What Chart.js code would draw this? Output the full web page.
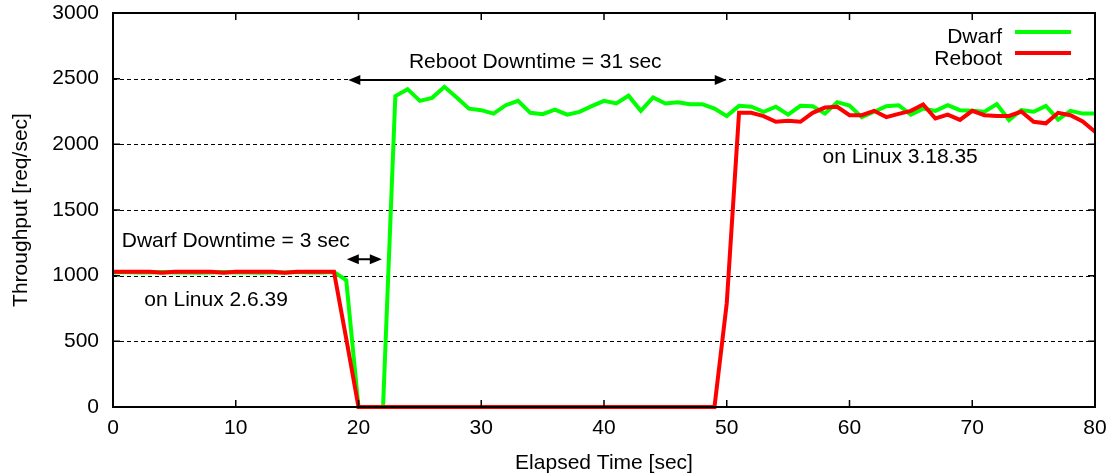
<!DOCTYPE html>
<html>
<head>
<meta charset="utf-8">
<script src="https://cdn.jsdelivr.net/npm/chart.js@4.4.1/dist/chart.umd.min.js"></script>
<style>
  html, body { margin:0; padding:0; background:#fff; }
  #wrap { width:1112px; height:476px; }
</style>
</head>
<body>
<div id="wrap"><canvas id="chart" width="1112" height="476"></canvas></div>
<script>
// elapsed seconds 0..80
const seconds = [
  0,1,2,3,4,5,6,7,8,9,10,11,12,13,14,15,16,17,18,19,20,
  21,22,23,24,25,26,27,28,29,30,31,32,33,34,35,36,37,38,39,40,
  41,42,43,44,45,46,47,48,49,50,51,52,53,54,55,56,57,58,59,60,
  61,62,63,64,65,66,67,68,69,70,71,72,73,74,75,76,77,78,79,80
];

const dwarf = [
  1025,1028,1025,1025,1028,1025,1025,1022,1025,1028,1025,1025,1022,1025,1025,1028,1025,1025,1028,966,0,
  0,0,2367,2420,2331,2354,2438,2357,2272,2260,2234,2298,2331,2240,2230,2265,2226,2247,2291,2331,
  2311,2370,2255,2357,2311,2321,2306,2306,2272,2215,2293,2286,2248,2286,2226,2293,2290,2234,2321,2295,
  2207,2248,2290,2298,2226,2272,2255,2298,2260,2255,2248,2306,2185,2261,2248,2292,2189,2255,2234,2234
];

const reboot = [
  1030,1030,1030,1030,1022,1030,1030,1030,1030,1022,1030,1030,1030,1030,1022,1030,1030,1030,1030,520,0,
  0,0,0,0,0,0,0,0,0,0,0,0,0,0,0,0,0,0,0,0,
  0,0,0,0,0,0,0,0,0,790,2240,2240,2215,2172,2180,2172,2240,2280,2286,2222,
  2222,2255,2207,2232,2255,2303,2197,2226,2186,2255,2222,2215,2216,2250,2172,2160,2240,2222,2175,2096
];

const seriesNames = ['Dwarf', 'Reboot'];
const seriesColors = ['#00ff00', '#ff0000'];
const xTicks = [0,10,20,30,40,50,60,70,80];
const yTicks = [0,500,1000,1500,2000,2500,3000];

const FONT = '"Liberation Sans", Arial, Helvetica, sans-serif';

function pts(vals) {
  return seconds.map((s, i) => ({ x: s, y: vals[i] }));
}

// extra drawing: dashed grid, frame, inward ticks, arrows, notes, key
const decor = {
  id: 'decor',
  beforeDatasetsDraw(chart) {
    const {ctx, chartArea: a, scales: {y}} = chart;
    ctx.save();
    ctx.strokeStyle = '#000';
    ctx.lineWidth = 1;
    ctx.setLineDash([4, 3]);
    yTicks.forEach(v => {
      if (v === 0 || v === 3000) return;
      const py = Math.round(y.getPixelForValue(v)) + 0.5;
      ctx.beginPath();
      ctx.moveTo(a.left, py);
      ctx.lineTo(a.right, py);
      ctx.stroke();
    });
    ctx.restore();
  },
  afterDatasetsDraw(chart) {
    const {ctx, chartArea: a, scales: {x, y}} = chart;
    ctx.save();
    ctx.strokeStyle = '#000';
    ctx.lineWidth = 2;
    ctx.setLineDash([]);
    ctx.strokeRect(a.left, a.top, a.right - a.left, a.bottom - a.top);

    // inward ticks
    const tl = 7;
    ctx.lineWidth = 1.5;
    ctx.beginPath();
    xTicks.forEach(v => {
      const px = x.getPixelForValue(v);
      ctx.moveTo(px, a.bottom); ctx.lineTo(px, a.bottom - tl);
      ctx.moveTo(px, a.top); ctx.lineTo(px, a.top + tl);
    });
    yTicks.forEach(v => {
      const py = y.getPixelForValue(v);
      ctx.moveTo(a.left, py); ctx.lineTo(a.left + tl, py);
      ctx.moveTo(a.right, py); ctx.lineTo(a.right - tl, py);
    });
    ctx.stroke();

    // double arrows
    function arrow(t1, t2, v) {
      const x1 = x.getPixelForValue(t1), x2 = x.getPixelForValue(t2);
      const py = y.getPixelForValue(v);
      const hl = 12, hw = 5;
      ctx.lineWidth = 2;
      ctx.beginPath();
      ctx.moveTo(x1 + hl - 2, py); ctx.lineTo(x2 - hl + 2, py);
      ctx.stroke();
      ctx.fillStyle = '#000';
      ctx.beginPath();
      ctx.moveTo(x1, py); ctx.lineTo(x1 + hl, py - hw); ctx.lineTo(x1 + hl, py + hw);
      ctx.closePath(); ctx.fill();
      ctx.beginPath();
      ctx.moveTo(x2, py); ctx.lineTo(x2 - hl, py - hw); ctx.lineTo(x2 - hl, py + hw);
      ctx.closePath(); ctx.fill();
    }
    arrow(19.05, 21.9, 1125);
    arrow(19.17, 50.0, 2490);

    ctx.font = '21px ' + FONT;
    ctx.fillStyle = '#000';
    ctx.textBaseline = 'alphabetic';
    ctx.textAlign = 'center';
    ctx.fillText('Reboot Downtime = 31 sec', x.getPixelForValue(34.4), y.getPixelForValue(2579));
    ctx.textAlign = 'left';
    ctx.fillText('Dwarf Downtime = 3 sec', x.getPixelForValue(0.71), y.getPixelForValue(1218));
    ctx.fillText('on Linux 2.6.39', x.getPixelForValue(2.55), y.getPixelForValue(771));
    ctx.fillText('on Linux 3.18.35', x.getPixelForValue(57.8), y.getPixelForValue(1860));

    // key
    ctx.textAlign = 'right';
    seriesNames.forEach((name, i) => {
      ctx.fillStyle = '#000';
      ctx.fillText(name, a.right - 93, a.top + 30 + i * 22);
      ctx.strokeStyle = seriesColors[i];
      ctx.lineWidth = 4;
      ctx.beginPath();
      ctx.moveTo(a.right - 80, a.top + 19 + i * 21);
      ctx.lineTo(a.right - 24, a.top + 19 + i * 21);
      ctx.stroke();
    });
    ctx.restore();
  }
};

new Chart(document.getElementById('chart'), {
  type: 'line',
  data: {
    datasets: [
      { label: seriesNames[1], data: pts(reboot), borderColor: seriesColors[1], borderWidth: 4,
        pointRadius: 0, tension: 0, clip: 6 },
      { label: seriesNames[0], data: pts(dwarf), borderColor: seriesColors[0], borderWidth: 4,
        pointRadius: 0, tension: 0, clip: 6 }
    ]
  },
  options: {
    responsive: false,
    animation: false,
    devicePixelRatio: 1,
    layout: { padding: { top: 13, right: 17, left: 0, bottom: 0 } },
    plugins: { legend: { display: false }, tooltip: { enabled: false } },
    scales: {
      x: {
        type: 'linear', min: 0, max: 80,
        afterBuildTicks: s => { s.ticks = xTicks.map(v => ({ value: v })); },
        afterFit: s => { s.height = 69; s.paddingLeft = 0; s.paddingRight = 0; },
        grid: { display: false, drawTicks: false },
        border: { display: false },
        ticks: { color: '#000', font: { family: FONT, size: 21 }, padding: 9, maxRotation: 0,
                 callback: v => String(v) },
        title: { display: true, text: 'Elapsed Time [sec]', color: '#000',
                 font: { family: FONT, size: 21 }, padding: { top: 0, bottom: 0 } }
      },
      y: {
        min: 0, max: 3000,
        afterBuildTicks: s => { s.ticks = yTicks.map(v => ({ value: v })); },
        afterFit: s => { s.width = 113; s.paddingTop = 0; s.paddingBottom = 0; },
        grid: { display: false, drawTicks: false },
        border: { display: false },
        ticks: { color: '#000', font: { family: FONT, size: 21 }, padding: 14,
                 callback: v => String(v) },
        title: { display: true, text: 'Throughput [req/sec]', color: '#000',
                 font: { family: FONT, size: 21 }, padding: { top: 9, bottom: 0 } }
      }
    }
  },
  plugins: [decor]
});
</script>
</body>
</html>
